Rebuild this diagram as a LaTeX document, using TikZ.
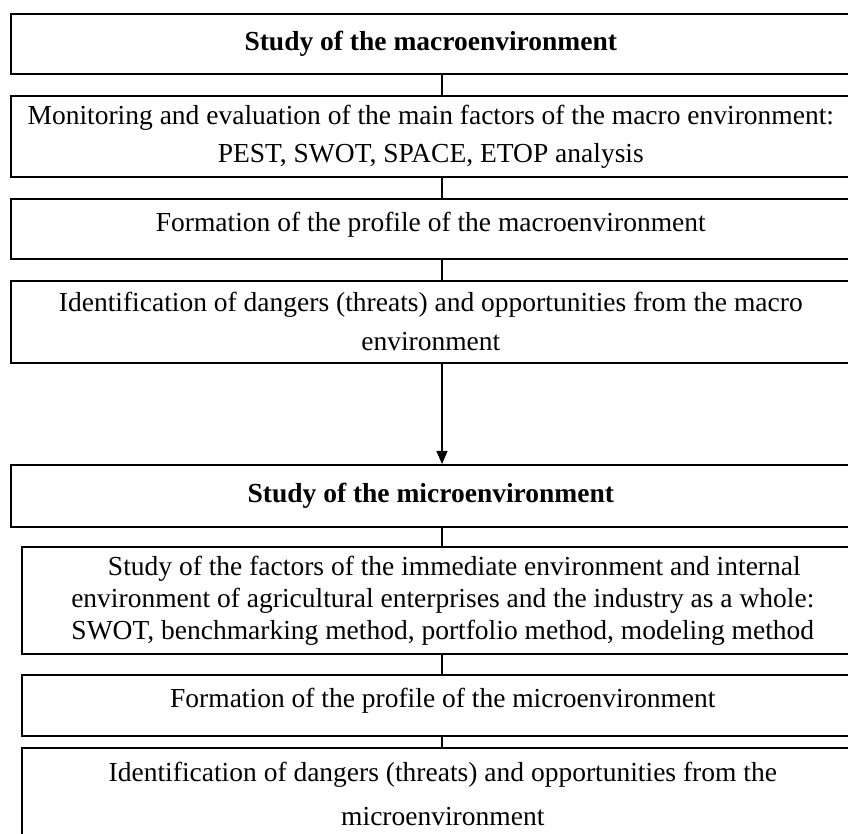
\documentclass[tikz,border=0pt]{standalone}
\usepackage{fontspec}
\setmainfont{Liberation Serif}
\usetikzlibrary{arrows.meta,positioning}

\begin{document}
\begin{tikzpicture}[x=1pt,y=1pt,>={Triangle[length=13pt,width=11pt]}]

    % Define node styles
    \tikzstyle{stage_block} = [draw, line width=1.6pt, anchor=north west, minimum width=840pt, align=center, inner sep=0pt, font=\fontsize{27.5}{38}\selectfont]
    \tikzstyle{title_block} = [stage_block, font=\fontsize{27.5}{38}\selectfont\bfseries]
    \tikzstyle{step_block} = [stage_block, minimum width=842pt]
    \tikzstyle{link_line} = [line width=1.1pt]

    \useasboundingbox (0,0) rectangle (848,834);
    \clip (0,0) rectangle (848,834);

    % Draw nodes
    \node [title_block, minimum height=60pt] (macro_study) at (10,821) {Study of the macroenvironment};
    \node [stage_block, minimum height=81pt] (macro_monitoring) at (10,739) {Monitoring and evaluation of the main factors of the macro environment:\\PEST, SWOT, SPACE, ETOP analysis};
    \node [stage_block, minimum height=60pt, text depth=14pt] (macro_profile) at (10,636) {Formation of the profile of the macroenvironment};
    \node [stage_block, minimum height=82pt, font=\fontsize{27.5}{39}\selectfont] (macro_threats) at (10,554) {Identification of dangers (threats) and opportunities from the macro\\environment};

    \node [title_block, minimum height=62pt] (micro_study) at (10,370) {Study of the microenvironment};
    \node [step_block, minimum height=107pt, font=\fontsize{27.5}{32}\selectfont] (micro_factors) at (21,288) {\hspace*{23pt}Study of the factors of the immediate environment and internal\\environment of agricultural enterprises and the industry as a whole:\\SWOT, benchmarking method, portfolio method, modeling method};
    \node [step_block, minimum height=61pt, text depth=14pt] (micro_profile) at (21,160) {Formation of the profile of the microenvironment};
    \node [step_block, minimum height=92pt, font=\fontsize{27.5}{44}\selectfont] (micro_threats) at (21,87) {Identification of dangers (threats) and opportunities from the\\microenvironment};

    \coordinate (axis) at (442,0);

    % Draw arrows
    \draw [link_line] (macro_study.south -| axis) -- (macro_monitoring.north -| axis);
    \draw [link_line] (macro_monitoring.south -| axis) -- (macro_profile.north -| axis);
    \draw [link_line] (macro_profile.south -| axis) -- (macro_threats.north -| axis);
    \draw [link_line, ->] (macro_threats.south -| axis) -- (micro_study.north -| axis);

    \draw [link_line] (micro_study.south -| axis) -- (micro_factors.north -| axis);
    \draw [link_line] (micro_factors.south -| axis) -- (micro_profile.north -| axis);
    \draw [link_line] (micro_profile.south -| axis) -- (micro_threats.north -| axis);

\end{tikzpicture}
\end{document}
